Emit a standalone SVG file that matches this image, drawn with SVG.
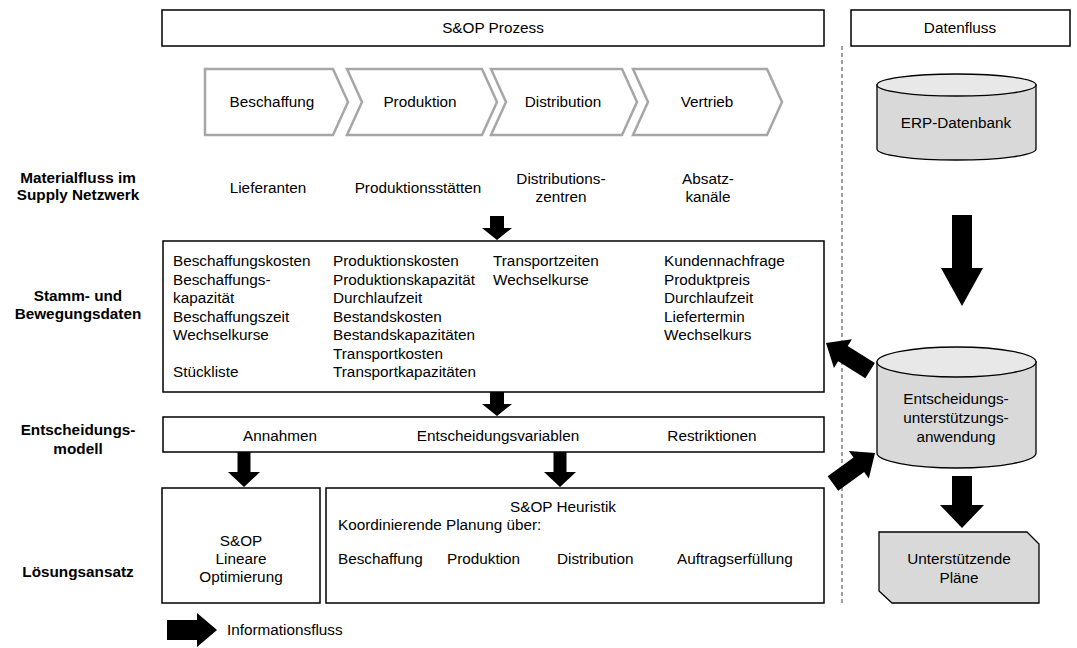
<svg xmlns="http://www.w3.org/2000/svg" width="1077" height="648" viewBox="0 0 1077 648">
  <style>
    text { font-family: "Liberation Sans", Arial, sans-serif; font-size: 15.3px; fill: #000; }
    .b { font-weight: bold; }
    .c { text-anchor: middle; }
    .box { fill: #fff; stroke: #000; stroke-width: 1.5; }
    .chev { fill: #fff; stroke: #a6a6a6; stroke-width: 2.5; stroke-linejoin: miter; }
    .db { fill: #d9d9d9; stroke: #000; stroke-width: 1.3; }
    .dbtop { fill: #e8e8e8; stroke: #000; stroke-width: 1.3; }
    .arrow { fill: #000; }
    .sep { stroke: #808080; stroke-width: 1.5; stroke-dasharray: 4 3; fill: none; }
  </style>

  <!-- Column headers -->
  <g id="header-process">
    <rect class="box" x="162" y="10" width="662" height="36"/>
    <text class="c" x="493" y="33">S&amp;OP Prozess</text>
  </g>
  <g id="header-dataflow">
    <rect class="box" x="851" y="10" width="219" height="36"/>
    <text class="c" x="960" y="33">Datenfluss</text>
  </g>

  <!-- Separator between process and data flow -->
  <line class="sep" x1="842" y1="46" x2="842" y2="606"/>

  <!-- Process chevrons -->
  <g id="chevron-beschaffung">
    <path class="chev" d="M205,69 L333,69 L348,102 L333,135 L205,135 Z"/>
    <text class="c" x="272" y="107">Beschaffung</text>
  </g>
  <g id="chevron-produktion">
    <path class="chev" d="M347,69 L482,69 L497,102 L482,135 L347,135 L362,102 Z"/>
    <text class="c" x="420" y="107">Produktion</text>
  </g>
  <g id="chevron-distribution">
    <path class="chev" d="M491,69 L622,69 L637,102 L622,135 L491,135 L506,102 Z"/>
    <text class="c" x="563" y="107">Distribution</text>
  </g>
  <g id="chevron-vertrieb">
    <path class="chev" d="M633,69 L767,69 L782,102 L767,135 L633,135 L648,102 Z"/>
    <text class="c" x="707" y="107">Vertrieb</text>
  </g>

  <!-- Row labels -->
  <g id="label-materialfluss">
    <text class="b c" x="78" y="183">Materialfluss im</text>
    <text class="b c" x="78" y="200">Supply Netzwerk</text>
  </g>
  <g id="label-stammdaten">
    <text class="b c" x="78" y="301">Stamm- und</text>
    <text class="b c" x="78" y="319">Bewegungsdaten</text>
  </g>
  <g id="label-entscheidungsmodell">
    <text class="b c" x="78" y="435">Entscheidungs-</text>
    <text class="b c" x="78" y="454">modell</text>
  </g>
  <g id="label-loesungsansatz">
    <text class="b c" x="78" y="577">Lösungsansatz</text>
  </g>

  <!-- Supply network stages -->
  <g id="network-stages">
    <text class="c" x="268" y="193">Lieferanten</text>
    <text class="c" x="418" y="193">Produktionsstätten</text>
    <text class="c" x="561" y="184">Distributions-</text>
    <text class="c" x="561" y="202">zentren</text>
    <text class="c" x="708" y="184">Absatz-</text>
    <text class="c" x="708" y="202">kanäle</text>
  </g>

  <!-- Master and transaction data -->
  <g id="data-box">
    <rect class="box" x="163" y="241" width="661" height="151"/>
    <text x="173" y="266">Beschaffungskosten</text>
    <text x="173" y="284.5">Beschaffungs-</text>
    <text x="173" y="303">kapazität</text>
    <text x="173" y="321.5">Beschaffungszeit</text>
    <text x="173" y="340">Wechselkurse</text>
    <text x="173" y="377">Stückliste</text>

    <text x="333" y="266">Produktionskosten</text>
    <text x="333" y="284.5">Produktionskapazität</text>
    <text x="333" y="303">Durchlaufzeit</text>
    <text x="333" y="321.5">Bestandskosten</text>
    <text x="333" y="340">Bestandskapazitäten</text>
    <text x="333" y="358.5">Transportkosten</text>
    <text x="333" y="377">Transportkapazitäten</text>

    <text x="493" y="266">Transportzeiten</text>
    <text x="493" y="284.5">Wechselkurse</text>

    <text x="664" y="266">Kundennachfrage</text>
    <text x="664" y="284.5">Produktpreis</text>
    <text x="664" y="303">Durchlaufzeit</text>
    <text x="664" y="321.5">Liefertermin</text>
    <text x="664" y="340">Wechselkurs</text>
  </g>

  <!-- Decision model -->
  <g id="model-box">
    <rect class="box" x="163" y="417" width="661" height="35"/>
    <text class="c" x="280" y="441">Annahmen</text>
    <text class="c" x="498" y="441">Entscheidungsvariablen</text>
    <text class="c" x="712" y="441">Restriktionen</text>
  </g>

  <!-- Solution approaches -->
  <g id="lp-box">
    <rect class="box" x="162" y="488" width="158" height="115"/>
    <text class="c" x="241" y="546">S&amp;OP</text>
    <text class="c" x="241" y="564">Lineare</text>
    <text class="c" x="241" y="582">Optimierung</text>
  </g>
  <g id="heuristic-box">
    <rect class="box" x="326" y="488" width="498" height="115"/>
    <text class="c" x="563" y="512">S&amp;OP Heuristik</text>
    <text x="338" y="530">Koordinierende Planung über:</text>
    <text x="338" y="564">Beschaffung</text>
    <text x="447" y="564">Produktion</text>
    <text x="557" y="564">Distribution</text>
    <text x="677" y="564">Auftragserfüllung</text>
  </g>

  <!-- Data side -->
  <g id="erp-db">
    <path class="db" d="M877,85 L877,149 A79.5,11 0 0 0 1036,149 L1036,85 Z"/>
    <ellipse class="dbtop" cx="956.5" cy="85" rx="79.5" ry="11"/>
    <text class="c" x="956" y="128">ERP-Datenbank</text>
  </g>
  <g id="dss-db">
    <path class="db" d="M877,362 L877,453 A79.5,15 0 0 0 1036,453 L1036,362 Z"/>
    <ellipse class="dbtop" cx="956.5" cy="362" rx="79.5" ry="15"/>
    <text class="c" x="956" y="404">Entscheidungs-</text>
    <text class="c" x="956" y="423">unterstützungs-</text>
    <text class="c" x="956" y="442">anwendung</text>
  </g>
  <g id="plans">
    <path class="db" d="M879,532 L1027,532 L1039,544 L1039,603 L892,603 L879,591 Z"/>
    <text class="c" x="959" y="564">Unterstützende</text>
    <text class="c" x="959" y="583">Pläne</text>
  </g>

  <!-- Information flow arrows (drawn pointing right with tip at origin, then placed) -->
  <g id="connectors">
    <path class="arrow" transform="translate(497,240) rotate(90)" d="M0,0 L-12,-15 L-12,-7 L-24,-7 L-24,7 L-12,7 L-12,15 Z"/>
    <path class="arrow" transform="translate(497,416) rotate(90)" d="M0,0 L-12,-15 L-12,-7 L-24,-7 L-24,7 L-12,7 L-12,15 Z"/>
    <path class="arrow" transform="translate(244,487) rotate(90)" d="M0,0 L-15,-16 L-15,-6.5 L-35,-6.5 L-35,6.5 L-15,6.5 L-15,16 Z"/>
    <path class="arrow" transform="translate(560,487) rotate(90)" d="M0,0 L-15,-16 L-15,-6.5 L-35,-6.5 L-35,6.5 L-15,6.5 L-15,16 Z"/>
    <path class="arrow" transform="translate(962,306) rotate(90)" d="M0,0 L-38,-21 L-38,-10 L-91,-10 L-91,10 L-38,10 L-38,21 Z"/>
    <path class="arrow" transform="translate(962,528) rotate(90)" d="M0,0 L-23,-22 L-23,-10 L-52,-10 L-52,10 L-23,10 L-23,22 Z"/>
    <path class="arrow" transform="translate(826,343) rotate(212)" d="M0,0 L-20,-17 L-20,-9 L-52,-9 L-52,9 L-20,9 L-20,17 Z"/>
    <path class="arrow" transform="translate(875,453) rotate(-36)" d="M0,0 L-20,-17 L-20,-9 L-52,-9 L-52,9 L-20,9 L-20,17 Z"/>
  </g>

  <!-- Legend -->
  <g id="legend">
    <path class="arrow" transform="translate(217,630)" d="M0,0 L-20,-17 L-20,-10 L-50,-10 L-50,10 L-20,10 L-20,17 Z"/>
    <text x="227" y="635">Informationsfluss</text>
  </g>
</svg>
